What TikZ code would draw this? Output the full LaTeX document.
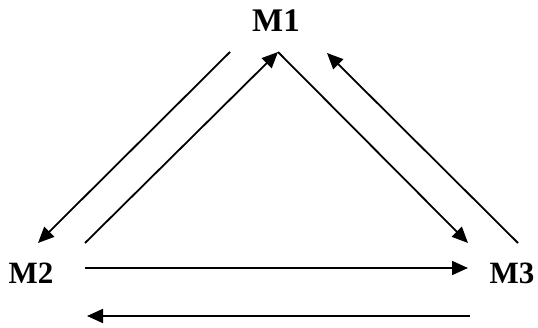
\documentclass[tikz,border=0pt]{standalone}
\usepackage{fontspec}
\setmainfont{Liberation Serif}
\usepackage{tikz}
\usetikzlibrary{arrows.meta}

\tikzset{
  flow/.style={line width=1.8pt, -{Triangle[length=16pt,width=14pt]}},
  machine/.style={font=\bfseries\fontsize{31}{31}\selectfont, anchor=base, inner sep=0pt}
}

\begin{document}
\begin{tikzpicture}[x=1pt, y=-1pt]
    \useasboundingbox (0,0) rectangle (538,328);

    % the three machines
    \node[machine, font=\bfseries\fontsize{33}{33}\selectfont] (M1) at (276,32) {M1};
    \node[machine] (M2) at (31,284) {M2};
    \node[machine] (M3) at (512,284) {M3};

    % end points of the links
    \coordinate (a1) at (230,52);  \coordinate (b1) at (38,243);
    \coordinate (a2) at (85,243);  \coordinate (b2) at (278,52);
    \coordinate (b3) at (468,243);
    \coordinate (a4) at (518,243); \coordinate (b4) at (327,53);
    \coordinate (a5) at (85,268);  \coordinate (b5) at (468,268);
    \coordinate (a6) at (470,316); \coordinate (b6) at (87,316);

    % M1 <-> M2
    \draw[flow] (a1) -- (b1);
    \draw[flow] (a2) -- (b2);

    % M1 <-> M3
    \draw[flow] (b2) -- (b3);
    \draw[flow] (a4) -- (b4);

    % M2 <-> M3
    \draw[flow] (a5) -- (b5);
    \draw[flow] (a6) -- (b6);
\end{tikzpicture}
\end{document}
